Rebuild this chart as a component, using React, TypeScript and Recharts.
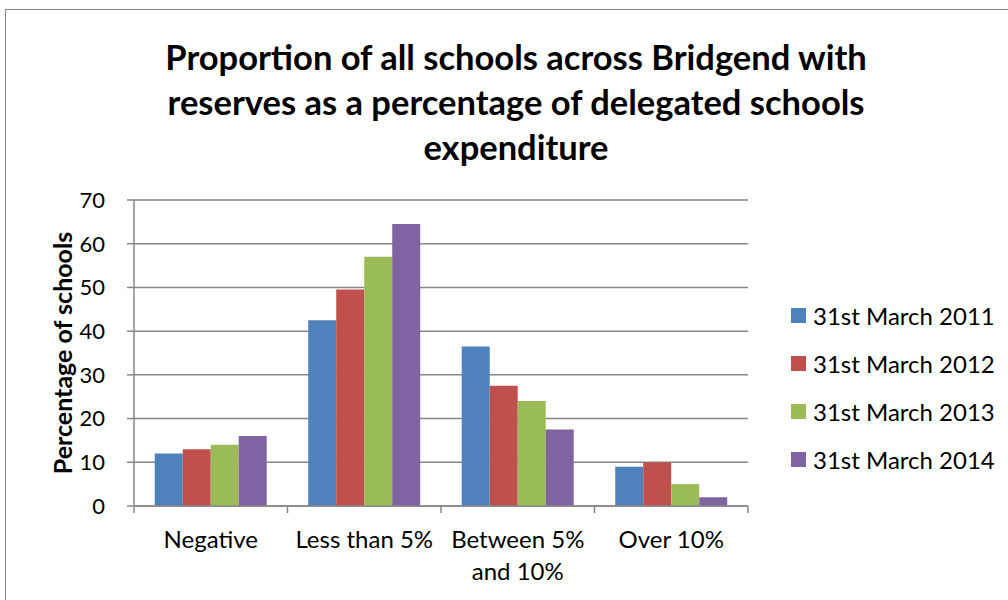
import React from 'react';
import { BarChart, Bar, XAxis, YAxis, CartesianGrid } from 'recharts';

const categories = ['Negative', 'Less than 5%', 'Between 5% and 10%', 'Over 10%'];
const seriesNames = ['31st March 2011', '31st March 2012', '31st March 2013', '31st March 2014'];
const values2011 = [12, 42.5, 36.5, 9];
const values2012 = [13, 49.5, 27.5, 10];
const values2013 = [14, 57, 24, 5];
const values2014 = [16, 64.5, 17.5, 2];
const yTicks = [0, 10, 20, 30, 40, 50, 60, 70];
const colors = ['#4F81BD', '#C0504D', '#9BBB59', '#8064A2'];
const titleLines = [
  'Proportion of all schools across Bridgend with',
  'reserves as a percentage of delegated schools',
  'expenditure',
];
const yLabel = 'Percentage of schools';

const FONT = 'Lato, "Open Sans", sans-serif';
const GRAY = '#878787';

const seriesValues = [values2011, values2012, values2013, values2014];
const keys = ['s2011', 's2012', 's2013', 's2014'];
const data = categories.map((c, i) => {
  const row: any = { category: c };
  keys.forEach((k, j) => (row[k] = seriesValues[j][i]));
  return row;
});

function wrap(text: string, max: number): string[] {
  const words = text.split(' ');
  const lines: string[] = [];
  let cur = '';
  words.forEach((w) => {
    const next = cur ? cur + ' ' + w : w;
    if (next.length > max && cur) {
      lines.push(cur);
      cur = w;
    } else cur = next;
  });
  if (cur) lines.push(cur);
  return lines;
}

const XTick = (props: any) => {
  const { x, y, payload, index, visibleTicksCount, width } = props;
  const off = payload && payload.offset != null ? payload.offset : width / visibleTicksCount / 2;
  const lines = wrap(String(payload.value), 12);
  return (
    <g>
      <line x1={x - off} x2={x - off} y1={y} y2={y + 7} stroke={GRAY} strokeWidth={1.5} />
      {index === visibleTicksCount - 1 && (
        <line x1={x + off} x2={x + off} y1={y} y2={y + 7} stroke={GRAY} strokeWidth={1.5} />
      )}
      <text x={x} y={y + 42} textAnchor="middle" fontSize={24} fontFamily={FONT} fill="#000">
        {lines.map((l, i) => (
          <tspan key={i} x={x} dy={i === 0 ? 0 : 32}>
            {l}
          </tspan>
        ))}
      </text>
    </g>
  );
};

const YLabel = (props: any) => {
  const vb = props.viewBox || {};
  const cx = (vb.x || 0) + 62;
  const cy = (vb.y || 0) + (vb.height || 0) / 2;
  return (
    <text
      x={cx}
      y={cy}
      transform={`rotate(-90 ${cx} ${cy})`}
      textAnchor="middle"
      dominantBaseline="central"
      fontSize={25}
      fontWeight="bold"
      fontFamily={FONT}
      fill="#000"
    >
      {yLabel}
    </text>
  );
};

export default function App() {
  return (
    <div style={{ position: 'absolute', left: 0, top: 0, width: 1008, height: 600, background: '#fff', overflow: 'hidden' }}>
      <div
        style={{
          position: 'absolute',
          left: 5,
          top: 9,
          width: 1100,
          height: 700,
          border: `1.5px solid ${GRAY}`,
          boxSizing: 'border-box',
        }}
      />
      <div
        style={{
          position: 'absolute',
          left: 0,
          top: 34,
          width: 1032,
          textAlign: 'center',
          fontFamily: FONT,
          fontWeight: 'bold',
          fontSize: 34.5,
          lineHeight: '45px',
          color: '#000',
        }}
      >
        {titleLines.map((l) => (
          <div key={l}>{l}</div>
        ))}
      </div>
      <div style={{ position: 'absolute', left: 0, top: 0 }}>
        <BarChart
          width={1008}
          height={600}
          data={data}
          margin={{ top: 200, right: 260, bottom: 0, left: 0 }}
          barCategoryGap="13.5%"
          barGap={0}
        >
          <CartesianGrid vertical={false} stroke={GRAY} strokeWidth={1.5} />
          <XAxis
            dataKey="category"
            tick={<XTick />}
            tickLine={false}
            tickSize={0}
            tickMargin={0}
            height={94}
            axisLine={{ stroke: GRAY, strokeWidth: 1.5 }}
            interval={0}
          />
          <YAxis
            width={134}
            domain={[0, 70]}
            ticks={yTicks}
            interval={0}
            tickSize={7}
            tickMargin={22}
            tick={{ fontSize: 22, fontFamily: FONT, fill: '#000' }}
            tickLine={{ stroke: GRAY, strokeWidth: 1.5 }}
            axisLine={{ stroke: GRAY, strokeWidth: 1.5 }}
            label={<YLabel />}
          />
          {keys.map((k, i) => (
            <Bar key={k} dataKey={k} name={seriesNames[i]} fill={colors[i]} isAnimationActive={false} />
          ))}
        </BarChart>
      </div>
      <div style={{ position: 'absolute', left: 791, top: 291, fontFamily: FONT, fontSize: 24, color: '#000' }}>
        {seriesNames.map((n, i) => (
          <div key={n} style={{ display: 'flex', alignItems: 'center', height: 48, whiteSpace: 'nowrap' }}>
            <span style={{ display: 'inline-block', width: 15, height: 15, background: colors[i], marginRight: 7 }} />
            <span>{n}</span>
          </div>
        ))}
      </div>
    </div>
  );
}
